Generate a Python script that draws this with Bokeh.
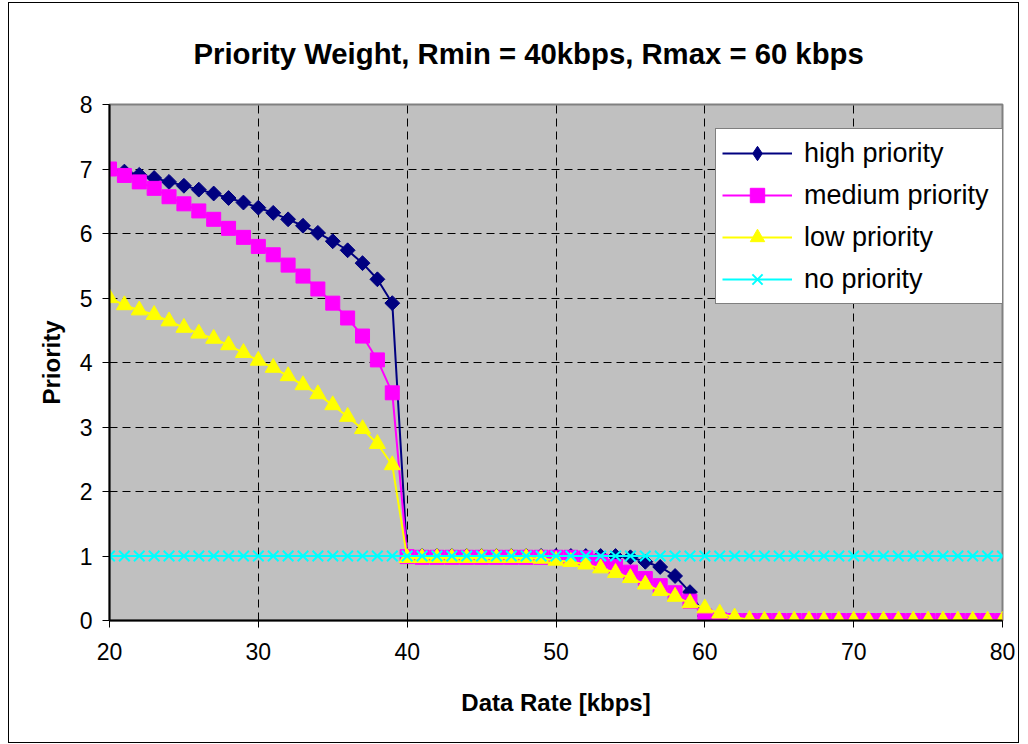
import numpy as np
from bokeh.plotting import figure
from bokeh.models import Range1d, FixedTicker, Legend, LegendItem
from bokeh.embed import file_html
from bokeh.resources import INLINE

# ---------------- data ----------------
rate = list(range(20, 81))

high_priority = [
    7.00, 6.96, 6.91, 6.86, 6.80, 6.74, 6.68, 6.62, 6.55, 6.48,
    6.40, 6.32, 6.22, 6.12, 6.01, 5.88, 5.74, 5.54, 5.29, 4.92,
    1.00, 1.00, 1.00, 1.00, 1.00, 1.00, 1.00, 1.00, 1.00, 1.00,
    1.00, 1.00, 1.00, 1.00, 1.00, 0.98, 0.91, 0.83, 0.69, 0.44,
    0.07, 0.00, 0.00, 0.00, 0.00, 0.00, 0.00, 0.00, 0.00, 0.00,
    0.00, 0.00, 0.00, 0.00, 0.00, 0.00, 0.00, 0.00, 0.00, 0.00,
    0.00,
]
medium_priority = [
    7.00, 6.90, 6.80, 6.70, 6.57, 6.46, 6.35, 6.22, 6.08, 5.94,
    5.80, 5.67, 5.51, 5.34, 5.14, 4.92, 4.69, 4.41, 4.04, 3.53,
    0.99, 0.98, 0.98, 0.98, 0.98, 0.98, 0.98, 0.98, 0.98, 0.98,
    0.98, 0.98, 0.97, 0.92, 0.84, 0.75, 0.65, 0.54, 0.43, 0.30,
    0.07, 0.01, 0.00, 0.00, 0.00, 0.00, 0.00, 0.00, 0.00, 0.00,
    0.00, 0.00, 0.00, 0.00, 0.00, 0.00, 0.00, 0.00, 0.00, 0.00,
    0.00,
]
low_priority = [
    5.00, 4.89, 4.81, 4.74, 4.64, 4.54, 4.45, 4.37, 4.27, 4.15,
    4.03, 3.92, 3.79, 3.65, 3.51, 3.34, 3.16, 2.97, 2.74, 2.41,
    0.97, 0.97, 0.97, 0.97, 0.97, 0.97, 0.97, 0.97, 0.97, 0.96,
    0.93, 0.91, 0.87, 0.81, 0.74, 0.66, 0.56, 0.46, 0.37, 0.27,
    0.19, 0.11, 0.05, 0.01, 0.00, 0.00, 0.00, 0.00, 0.00, 0.00,
    0.00, 0.00, 0.00, 0.00, 0.00, 0.00, 0.00, 0.00, 0.00, 0.00,
    0.00,
]
no_priority = [
    1.0, 1.0, 1.0, 1.0, 1.0, 1.0, 1.0, 1.0, 1.0, 1.0,
    1.0, 1.0, 1.0, 1.0, 1.0, 1.0, 1.0, 1.0, 1.0, 1.0,
    1.0, 1.0, 1.0, 1.0, 1.0, 1.0, 1.0, 1.0, 1.0, 1.0,
    1.0, 1.0, 1.0, 1.0, 1.0, 1.0, 1.0, 1.0, 1.0, 1.0,
    1.0, 1.0, 1.0, 1.0, 1.0, 1.0, 1.0, 1.0, 1.0, 1.0,
    1.0, 1.0, 1.0, 1.0, 1.0, 1.0, 1.0, 1.0, 1.0, 1.0,
    1.0,
]

x_ticks = [20, 30, 40, 50, 60, 70, 80]
y_ticks = [0, 1, 2, 3, 4, 5, 6, 7, 8]

title_text = "Priority Weight, Rmin = 40kbps, Rmax = 60 kbps"
x_title = "Data Rate [kbps]"
y_title = "Priority"

FONT = "Liberation Sans"

# ---------------- figure ----------------
p = figure(
    width=1011, height=741,
    x_range=Range1d(20, 80), y_range=Range1d(0, 8),
    output_backend="svg", toolbar_location=None,
    min_border_left=100, min_border_right=18,
    min_border_top=101, min_border_bottom=124,
)
p.margin = (2, 0, 0, 8)
p.styles = {"border": "1px solid black"}

p.background_fill_color = "#C0C0C0"
p.border_fill_color = "white"
p.outline_line_color = "#808080"
p.outline_line_width = 2

p.title.text = title_text
p.title.text_font = FONT
p.title.text_font_size = "29.3px"
p.title.text_font_style = "bold"
p.title.text_color = "black"
p.title.align = "left"
p.title.offset = 84
p.title.vertical_align = "top"
p.title.standoff = 66

for ax, ticks in ((p.xaxis[0], x_ticks), (p.yaxis[0], y_ticks)):
    ax.ticker = FixedTicker(ticks=ticks)
    ax.major_tick_out = 7
    ax.major_tick_in = 0
    ax.minor_tick_line_color = None
    ax.major_tick_line_color = "black"
    ax.major_tick_line_width = 1
    ax.axis_line_color = "black"
    ax.axis_line_width = 2
    ax.major_label_text_font = FONT
    ax.major_label_text_font_size = "23px"
    ax.major_label_text_color = "black"
    ax.axis_label_text_font = FONT
    ax.axis_label_text_font_size = "24px"
    ax.axis_label_text_font_style = "bold"
    ax.axis_label_text_color = "black"

p.xaxis.major_label_standoff = 15
p.yaxis.major_label_standoff = 10
p.xaxis.axis_label = x_title
p.yaxis.axis_label = y_title
p.xaxis.axis_label_standoff = 26
p.yaxis.axis_label_standoff = 12

p.xgrid.ticker = FixedTicker(ticks=[t for t in x_ticks if x_ticks[0] < t < x_ticks[-1]])
p.ygrid.ticker = FixedTicker(ticks=[t for t in y_ticks if y_ticks[0] < t < y_ticks[-1]])
for g in (p.xgrid[0], p.ygrid[0]):
    g.grid_line_color = "black"
    g.grid_line_dash = "8 5"
    g.grid_line_width = 1

# ---------------- series ----------------
series = [
    ("high priority", high_priority, "#000080", dict(marker="square", size=10.5, angle=np.pi / 4)),
    ("medium priority", medium_priority, "#FF00FF", dict(marker="square", size=14)),
    ("low priority", low_priority, "#FFFF00", dict(marker="triangle", size=16)),
    ("no priority", no_priority, "#00FFFF", dict(marker="x", size=15, line_width=2)),
]

items = []
for name, vals, col, mk in series:
    ln = p.line(rate, vals, line_color=col, line_width=2)
    kw = dict(mk)
    lw = kw.pop("line_width", 1)
    sc = p.scatter(rate, vals, fill_color=col, line_color=col, line_width=lw, **kw)
    rends = [ln, sc]
    if kw.get("angle"):
        # legend swatch: a diamond (legend swatches ignore marker angle)
        sw = p.scatter(rate, vals, marker="diamond", size=19,
                       fill_color=col, line_color=col, visible=False)
        rends = [ln, sw]
    items.append(LegendItem(label=name, renderers=rends))

legend = Legend(
    items=items, location=(606, 316),
    border_line_color="black", border_line_width=1,
    background_fill_color="white", background_fill_alpha=1.0,
    padding=6, spacing=6, margin=0,
    glyph_width=70, glyph_height=36, label_standoff=12, label_width=193,
    label_text_font=FONT, label_text_font_size="27px", label_text_color="black",
)
p.add_layout(legend)

open("out.html", "w").write(file_html(p, INLINE))
